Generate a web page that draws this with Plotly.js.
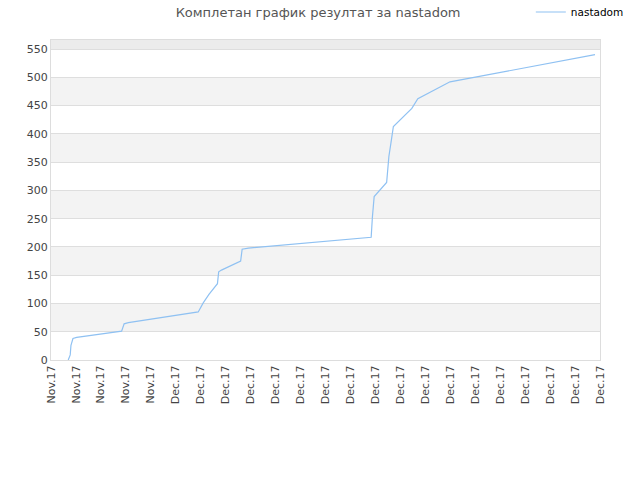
<!DOCTYPE html>
<html>
<head>
<meta charset="utf-8">
<script src="https://cdn.plot.ly/plotly-3.0.1.min.js"></script>
<style>
  html, body { margin: 0; padding: 0; background: #fff; }
  #chart { width: 640px; height: 480px; }
</style>
</head>
<body>
<div id="chart"></div>
<script>
// ------------ INPUT DATA ------------
// tick labels along the bottom (23 ticks, evenly spaced)
const tickLabels = [
  "Nov.17", "Nov.17", "Nov.17", "Nov.17", "Nov.17",
  "Dec.17", "Dec.17", "Dec.17", "Dec.17", "Dec.17", "Dec.17",
  "Dec.17", "Dec.17", "Dec.17", "Dec.17", "Dec.17", "Dec.17",
  "Dec.17", "Dec.17", "Dec.17", "Dec.17", "Dec.17", "Dec.17",
];

// result curve, x in tick units
const seriesName = "nastadom";
const xValues = [
  0.69, 0.77, 0.80, 0.88, 1.03, 2.83, 2.93, 3.10, 5.90, 6.10,
  6.33, 6.67, 6.72, 6.83, 7.60, 7.66, 7.91, 12.83, 12.88, 12.95,
  13.45, 13.54, 13.62, 13.72, 14.46, 14.70, 15.99, 21.80,
];
const yValues = [
  0, 9, 26, 38, 40, 51, 64, 66, 85, 101,
  116, 135, 156, 159, 175, 196, 198, 217, 253, 289,
  314, 360, 383, 413, 445, 462, 492, 540,
];
const yMax = 566;
// ------------ END INPUT DATA ------------

// alternating horizontal bands
function bandShapes() {
  const shapes = [];
  for (let lo = 50; lo < yMax; lo += 100) {
    shapes.push({
      type: "rect", xref: "paper", yref: "y", layer: "below",
      x0: 0, x1: 1, y0: lo, y1: Math.min(lo + 50, yMax),
      fillcolor: "#f3f3f3", line: { width: 0 },
    });
  }
  shapes.push({
    type: "rect", xref: "paper", yref: "y", layer: "below",
    x0: 0, x1: 1, y0: 550, y1: yMax,
    fillcolor: "#ececec", line: { width: 0 },
  });
  return shapes;
}

const data = [
  {
    x: xValues,
    y: yValues,
    name: seriesName,
    type: "scatter",
    mode: "lines",
    hoverinfo: "none",
    line: { color: "#8fc1f2", width: 1.2 },
  },
];

const layout = {
  width: 640,
  height: 480,
  margin: { t: 40, b: 120, l: 51, r: 40, autoexpand: false },
  paper_bgcolor: "#fff",
  plot_bgcolor: "#fff",
  font: { family: "DejaVu Sans, sans-serif", size: 11, color: "#444" },
  title: {
    text: "Комплетан график резултат за nastadom",
    x: 0.497, xanchor: "center", y: 0.975, yanchor: "middle",
    font: { size: 13, color: "#555" },
  },
  showlegend: true,
  legend: {
    x: 0.874, y: 1.0875, xanchor: "left", yanchor: "middle",
    font: { size: 10.5, color: "#000" },
    bgcolor: "rgba(0,0,0,0)",
    itemwidth: 30,
  },
  xaxis: {
    range: [0, tickLabels.length - 1],
    tickmode: "array",
    tickvals: tickLabels.map((_, i) => i),
    ticktext: tickLabels,
    tickangle: -90,
    ticks: "",
    showgrid: false,
    zeroline: false,
    showline: true,
    linecolor: "#ddd",
    mirror: true,
    fixedrange: true,
  },
  yaxis: {
    range: [0, yMax],
    tickmode: "linear",
    tick0: 0,
    dtick: 50,
    ticks: "",
    showgrid: true,
    gridcolor: "#dedede",
    zeroline: false,
    showline: true,
    linecolor: "#ddd",
    mirror: true,
    fixedrange: true,
  },
  shapes: bandShapes(),
};

Plotly.newPlot("chart", data, layout, { displayModeBar: false, staticPlot: true });
</script>
</body>
</html>
